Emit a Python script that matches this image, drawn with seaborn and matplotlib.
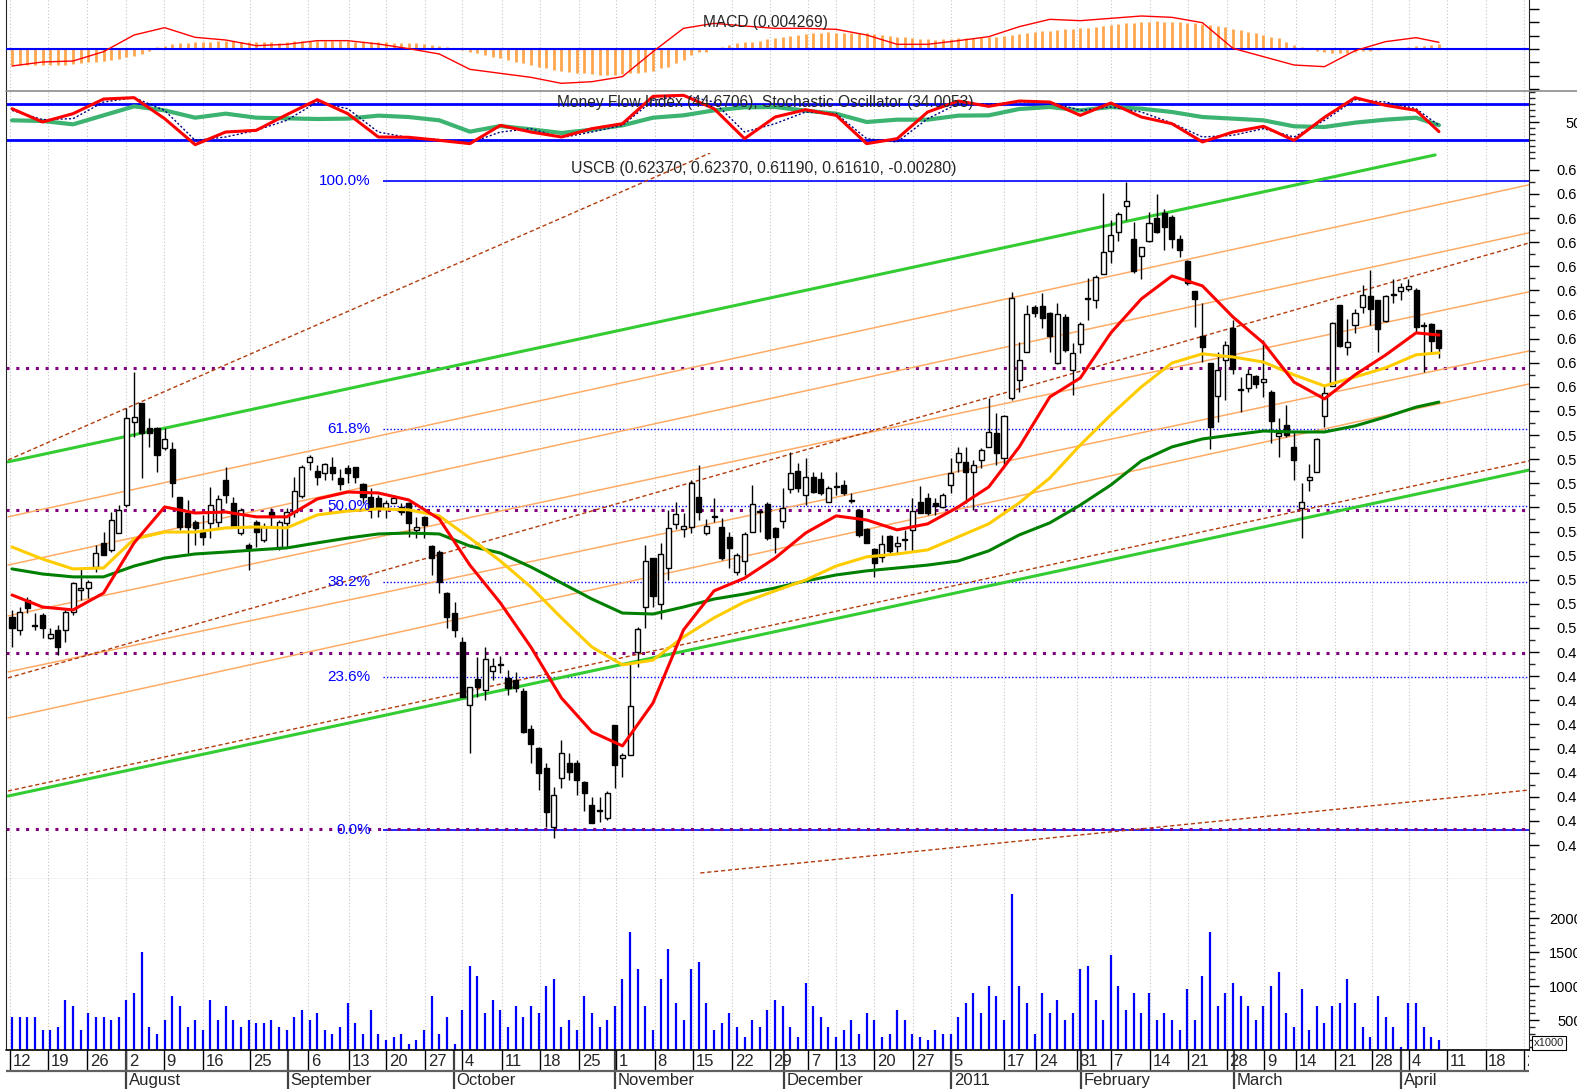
import matplotlib
matplotlib.use("Agg")
import matplotlib.pyplot as plt
from matplotlib import font_manager
from matplotlib.ticker import MultipleLocator, FixedLocator, NullFormatter
from matplotlib.lines import Line2D
import seaborn as sns

sns.set_style("white")
plt.rcParams['font.family'] = ['Liberation Sans', 'DejaVu Sans']

# the date strip uses a narrow face when one is installed
installed = {f.name for f in font_manager.fontManager.ttflist}
if 'Liberation Sans Narrow' in installed:
    DATE_FAMILY, DATE_SIZE = ['Liberation Sans Narrow', 'DejaVu Sans'], 13.5
else:
    DATE_FAMILY, DATE_SIZE = ['Liberation Sans', 'DejaVu Sans'], 12

# ---------------- data ----------------
opens = [0.5046, 0.4992, 0.5116, 0.5012, 0.5054, 0.4958, 0.4992, 0.4992, 0.5066, 0.5158,
         0.5166, 0.5253, 0.5353, 0.5324, 0.5394, 0.5510, 0.5855, 0.5933, 0.5830, 0.5830,
         0.5747, 0.5743, 0.5543, 0.5477, 0.5440, 0.5398, 0.5436, 0.5440, 0.5614, 0.5518,
         0.5394, 0.5344, 0.5440, 0.5365, 0.5481, 0.5336, 0.5436, 0.5481, 0.5548, 0.5689,
         0.5651, 0.5643, 0.5668, 0.5622, 0.5664, 0.5668, 0.5597, 0.5543, 0.5539, 0.5498,
         0.5518, 0.5502, 0.5518, 0.5407, 0.5460, 0.5340, 0.5315, 0.5145, 0.5062, 0.4942,
         0.4681, 0.4789, 0.4743, 0.4822, 0.4851, 0.4793, 0.4784, 0.4739, 0.4581, 0.4502,
         0.4419, 0.4175, 0.4378, 0.4440, 0.4440, 0.4361, 0.4266, 0.4245, 0.4212, 0.4598,
         0.4461, 0.4473, 0.4901, 0.5087, 0.5290, 0.5100, 0.5249, 0.5431, 0.5411, 0.5419,
         0.5543, 0.5394, 0.5465, 0.5419, 0.5378, 0.5232, 0.5278, 0.5398, 0.5481, 0.5514,
         0.5415, 0.5444, 0.5577, 0.5651, 0.5552, 0.5626, 0.5618, 0.5523, 0.5585, 0.5593,
         0.5531, 0.5490, 0.5411, 0.5328, 0.5295, 0.5382, 0.5340, 0.5369, 0.5407, 0.5523,
         0.5539, 0.5518, 0.5502, 0.5593, 0.5689, 0.5689, 0.5647, 0.5697, 0.5751, 0.5809,
         0.5705, 0.5954, 0.6029, 0.6145, 0.6332, 0.6336, 0.6307, 0.6099, 0.6290, 0.6070,
         0.6178, 0.6369, 0.6361, 0.6468, 0.6564, 0.6643, 0.6751, 0.6614, 0.6543, 0.6605,
         0.6701, 0.6722, 0.6705, 0.6614, 0.6522, 0.6398, 0.6211, 0.6099, 0.5962, 0.6112,
         0.6244, 0.5991, 0.5996, 0.6045, 0.6021, 0.5979, 0.5796, 0.5842, 0.5751, 0.5498,
         0.5614, 0.5647, 0.5879, 0.6004, 0.6340, 0.6166, 0.6257, 0.6332, 0.6377, 0.6361,
         0.6274, 0.6386, 0.6398, 0.6406, 0.6402, 0.6257, 0.6261, 0.6237]
highs = [0.5075, 0.5087, 0.5129, 0.5062, 0.5062, 0.5000, 0.5012, 0.5075, 0.5191, 0.5249,
         0.5199, 0.5344, 0.5398, 0.5481, 0.5510, 0.5913, 0.6062, 0.5933, 0.5871, 0.5834,
         0.5830, 0.5772, 0.5543, 0.5531, 0.5448, 0.5469, 0.5585, 0.5552, 0.5668, 0.5543,
         0.5498, 0.5353, 0.5448, 0.5436, 0.5498, 0.5448, 0.5498, 0.5626, 0.5676, 0.5718,
         0.5676, 0.5684, 0.5709, 0.5660, 0.5676, 0.5668, 0.5602, 0.5581, 0.5552, 0.5531,
         0.5552, 0.5518, 0.5523, 0.5460, 0.5465, 0.5344, 0.5324, 0.5149, 0.5108, 0.4963,
         0.4756, 0.4880, 0.4921, 0.4876, 0.4884, 0.4826, 0.4818, 0.4751, 0.4598, 0.4507,
         0.4440, 0.4341, 0.4535, 0.4482, 0.4453, 0.4366, 0.4299, 0.4299, 0.4324, 0.4598,
         0.4482, 0.4855, 0.5004, 0.5344, 0.5290, 0.5353, 0.5490, 0.5523, 0.5477, 0.5614,
         0.5676, 0.5452, 0.5539, 0.5457, 0.5398, 0.5311, 0.5398, 0.5593, 0.5490, 0.5523,
         0.5419, 0.5581, 0.5730, 0.5684, 0.5705, 0.5647, 0.5647, 0.5589, 0.5647, 0.5614,
         0.5560, 0.5494, 0.5415, 0.5332, 0.5386, 0.5386, 0.5382, 0.5407, 0.5539, 0.5589,
         0.5560, 0.5539, 0.5560, 0.5705, 0.5751, 0.5751, 0.5697, 0.5747, 0.5954, 0.5892,
         0.5884, 0.6394, 0.6186, 0.6340, 0.6340, 0.6390, 0.6311, 0.6348, 0.6303, 0.6182,
         0.6269, 0.6452, 0.6464, 0.6804, 0.6692, 0.6726, 0.6850, 0.6684, 0.6581, 0.6726,
         0.6800, 0.6738, 0.6713, 0.6630, 0.6527, 0.6398, 0.6348, 0.6099, 0.6145, 0.6191,
         0.6278, 0.6041, 0.6074, 0.6049, 0.6195, 0.5987, 0.5871, 0.5925, 0.5813, 0.5602,
         0.5680, 0.5788, 0.6008, 0.6270, 0.6340, 0.6282, 0.6323, 0.6423, 0.6485, 0.6361,
         0.6381, 0.6448, 0.6431, 0.6448, 0.6410, 0.6269, 0.6265, 0.6237]
lows = [0.4921, 0.4971, 0.5062, 0.4992, 0.4958, 0.4955, 0.4888, 0.4942, 0.5054, 0.5116,
        0.5125, 0.5232, 0.5303, 0.5315, 0.5394, 0.5502, 0.5792, 0.5622, 0.5751, 0.5647,
        0.5738, 0.5543, 0.5407, 0.5311, 0.5344, 0.5344, 0.5373, 0.5419, 0.5518, 0.5415,
        0.5386, 0.5241, 0.5336, 0.5357, 0.5419, 0.5324, 0.5336, 0.5460, 0.5540, 0.5655,
        0.5593, 0.5614, 0.5614, 0.5572, 0.5602, 0.5602, 0.5518, 0.5457, 0.5460, 0.5457,
        0.5518, 0.5469, 0.5378, 0.5373, 0.5373, 0.5220, 0.5145, 0.5000, 0.4963, 0.4714,
        0.4482, 0.4714, 0.4701, 0.4784, 0.4813, 0.4722, 0.4735, 0.4564, 0.4440, 0.4328,
        0.4175, 0.4129, 0.4337, 0.4370, 0.4307, 0.4241, 0.4191, 0.4195, 0.4204, 0.4337,
        0.4382, 0.4473, 0.4838, 0.5000, 0.5087, 0.5037, 0.5199, 0.5411, 0.5378, 0.5394,
        0.5448, 0.5386, 0.5440, 0.5282, 0.5249, 0.5220, 0.5220, 0.5398, 0.5398, 0.5365,
        0.5311, 0.5415, 0.5560, 0.5564, 0.5510, 0.5560, 0.5552, 0.5523, 0.5552, 0.5552,
        0.5518, 0.5378, 0.5353, 0.5212, 0.5274, 0.5311, 0.5311, 0.5324, 0.5315, 0.5477,
        0.5469, 0.5469, 0.5498, 0.5560, 0.5647, 0.5518, 0.5490, 0.5664, 0.5751, 0.5676,
        0.5668, 0.5946, 0.5979, 0.6145, 0.6290, 0.6244, 0.6145, 0.6095, 0.6145, 0.5967,
        0.6141, 0.6278, 0.6327, 0.6468, 0.6514, 0.6605, 0.6692, 0.6473, 0.6448, 0.6601,
        0.6639, 0.6568, 0.6576, 0.6539, 0.6423, 0.6249, 0.6103, 0.5743, 0.5855, 0.5946,
        0.6054, 0.5896, 0.5979, 0.5996, 0.5958, 0.5767, 0.5709, 0.5792, 0.5614, 0.5373,
        0.5568, 0.5647, 0.5834, 0.6004, 0.6166, 0.6132, 0.6224, 0.6307, 0.6257, 0.6145,
        0.6269, 0.6348, 0.6361, 0.6398, 0.6224, 0.6062, 0.6145, 0.6119]
closes = [0.5000, 0.5066, 0.5083, 0.5008, 0.5000, 0.4975, 0.4921, 0.5066, 0.5187, 0.5166,
          0.5191, 0.5311, 0.5303, 0.5448, 0.5490, 0.5871, 0.5875, 0.5809, 0.5809, 0.5718,
          0.5784, 0.5602, 0.5419, 0.5419, 0.5415, 0.5378, 0.5510, 0.5535, 0.5552, 0.5419,
          0.5490, 0.5332, 0.5398, 0.5419, 0.5460, 0.5440, 0.5481, 0.5568, 0.5668, 0.5709,
          0.5626, 0.5680, 0.5643, 0.5597, 0.5643, 0.5626, 0.5543, 0.5502, 0.5498, 0.5518,
          0.5539, 0.5481, 0.5436, 0.5419, 0.5427, 0.5290, 0.5191, 0.5046, 0.4992, 0.4714,
          0.4756, 0.4756, 0.4871, 0.4842, 0.4847, 0.4751, 0.4751, 0.4569, 0.4519, 0.4399,
          0.4237, 0.4307, 0.4482, 0.4403, 0.4370, 0.4316, 0.4191, 0.4241, 0.4316, 0.4432,
          0.4473, 0.4676, 0.4996, 0.5278, 0.5133, 0.5307, 0.5415, 0.5473, 0.5423, 0.5602,
          0.5481, 0.5423, 0.5460, 0.5290, 0.5332, 0.5303, 0.5390, 0.5514, 0.5486, 0.5373,
          0.5378, 0.5498, 0.5643, 0.5581, 0.5626, 0.5564, 0.5560, 0.5581, 0.5589, 0.5560,
          0.5527, 0.5386, 0.5353, 0.5270, 0.5349, 0.5320, 0.5353, 0.5365, 0.5486, 0.5477,
          0.5477, 0.5506, 0.5552, 0.5643, 0.5726, 0.5647, 0.5676, 0.5738, 0.5813, 0.5726,
          0.5879, 0.6369, 0.6112, 0.6303, 0.6307, 0.6286, 0.6211, 0.6303, 0.6153, 0.6141,
          0.6261, 0.6365, 0.6456, 0.6560, 0.6630, 0.6717, 0.6771, 0.6481, 0.6581, 0.6680,
          0.6643, 0.6664, 0.6614, 0.6568, 0.6431, 0.6365, 0.6166, 0.5834, 0.6070, 0.6174,
          0.6074, 0.5987, 0.6054, 0.6012, 0.6033, 0.5859, 0.5809, 0.5801, 0.5697, 0.5523,
          0.5626, 0.5784, 0.5975, 0.6265, 0.6170, 0.6186, 0.6307, 0.6381, 0.6323, 0.6240,
          0.6377, 0.6381, 0.6414, 0.6419, 0.6249, 0.6253, 0.6191, 0.6161]

# volume in thousands
volume = [550, 550, 550, 550, 350, 350, 400, 800, 700, 350,
          600, 550, 550, 500, 550, 800, 900, 1500, 400, 300,
          500, 850, 700, 400, 500, 350, 800, 500, 700, 500,
          400, 500, 450, 450, 500, 400, 350, 550, 650, 500,
          600, 350, 300, 400, 750, 450, 300, 650, 300, 200,
          250, 300, 150, 200, 350, 850, 300, 550, 150, 650,
          1300, 1150, 600, 800, 650, 400, 700, 550, 700, 600,
          1000, 1100, 400, 500, 350, 850, 600, 400, 500, 700,
          1100, 1800, 1250, 700, 350, 1100, 1550, 750, 500, 1250,
          1350, 750, 350, 450, 600, 400, 250, 500, 400, 650,
          800, 700, 400, 250, 1050, 700, 550, 400, 250, 350,
          500, 300, 600, 500, 250, 300, 650, 500, 300, 250,
          200, 350, 300, 300, 550, 750, 900, 600, 1000, 850,
          500, 2350, 1000, 750, 300, 900, 600, 800, 500, 600,
          1250, 1300, 800, 500, 1450, 1000, 650, 900, 600, 900,
          500, 600, 500, 350, 950, 500, 1150, 1800, 700, 900,
          1050, 850, 700, 500, 700, 1000, 1200, 600, 400, 950,
          350, 700, 450, 700, 750, 1100, 750, 400, 250, 850,
          550, 400, 100, 750, 750, 400, 250, 200]

macd_hist = [-0.0095, -0.0095, -0.0095, -0.0095, -0.0095, -0.0095, -0.0095, -0.0095, -0.0090, -0.0086,
             -0.0080, -0.0076, -0.0070, -0.0064, -0.0058, -0.0050, -0.0040, -0.0028, -0.0012, 0.0012,
             0.0020, 0.0028, 0.0034, 0.0038, 0.0040, 0.0044, 0.0044, 0.0046, 0.0050, 0.0048,
             0.0044, 0.0044, 0.0044, 0.0044, 0.0040, 0.0038, 0.0040, 0.0046, 0.0046, 0.0046,
             0.0046, 0.0046, 0.0046, 0.0046, 0.0046, 0.0044, 0.0044, 0.0044, 0.0044, 0.0040,
             0.0038, 0.0038, 0.0034, 0.0034, 0.0028, 0.0024, 0.0018, 0.0010, 0.0004, -0.0006,
             -0.0016, -0.0026, -0.0036, -0.0046, -0.0056, -0.0066, -0.0076, -0.0086, -0.0096, -0.0106,
             -0.0116, -0.0126, -0.0130, -0.0136, -0.0142, -0.0146, -0.0150, -0.0156, -0.0156, -0.0156,
             -0.0150, -0.0146, -0.0142, -0.0136, -0.0130, -0.0116, -0.0106, -0.0086, -0.0066, -0.0036,
             -0.0016, -0.0016, -0.0002, 0.0014, 0.0026, 0.0034, 0.0040, 0.0044, 0.0050, 0.0058,
             0.0068, 0.0074, 0.0078, 0.0084, 0.0088, 0.0094, 0.0098, 0.0100, 0.0098, 0.0094,
             0.0094, 0.0094, 0.0094, 0.0090, 0.0084, 0.0078, 0.0074, 0.0070, 0.0064, 0.0058,
             0.0058, 0.0054, 0.0058, 0.0060, 0.0064, 0.0064, 0.0068, 0.0070, 0.0074, 0.0074,
             0.0078, 0.0082, 0.0088, 0.0094, 0.0104, 0.0108, 0.0110, 0.0114, 0.0118, 0.0122,
             0.0124, 0.0128, 0.0134, 0.0138, 0.0144, 0.0148, 0.0154, 0.0158, 0.0162, 0.0164,
             0.0166, 0.0164, 0.0162, 0.0160, 0.0158, 0.0154, 0.0150, 0.0144, 0.0138, 0.0130,
             0.0122, 0.0114, 0.0104, 0.0094, 0.0084, 0.0074, 0.0064, 0.0044, 0.0024, 0.0014,
             -0.0002, -0.0010, -0.0020, -0.0022, -0.0026, -0.0022, -0.0016, -0.0012, -0.0010, -0.0006,
             -0.0002, 0.0004, 0.0008, 0.0014, 0.0018, 0.0020, 0.0024, 0.0028]

# indicator lines sampled every 4 sessions
line_idx = [0, 4, 8, 12, 16, 20, 24, 28, 32, 36, 40, 44, 48, 52, 56, 60, 64, 68, 72, 76,
            80, 84, 88, 92, 96, 100, 104, 108, 112, 116, 120, 124, 128, 132, 136, 140, 144,
            148, 152, 156, 160, 164, 168, 172, 176, 180, 184, 187]
macd_line = [-0.0102, -0.0078, -0.0072, -0.0016, 0.0084, 0.0128, 0.0070, 0.0054, 0.0020, 0.0028,
             0.0050, 0.0050, 0.0030, 0.0002, -0.0030, -0.0122, -0.0146, -0.0170, -0.0206, -0.0196,
             -0.0166, -0.0016, 0.0124, 0.0154, 0.0138, 0.0124, 0.0124, 0.0118, 0.0084, 0.0028,
             0.0028, 0.0050, 0.0074, 0.0134, 0.0178, 0.0170, 0.0184, 0.0198, 0.0190, 0.0158,
             0.0004, -0.0046, -0.0096, -0.0106, -0.0010, 0.0044, 0.0068, 0.0040]
mfi = [52.8, 51.7, 46.1, 61.1, 76.1, 69.4, 57.2, 63.9, 57.2, 56.1,
       55.0, 55.6, 60.6, 58.3, 52.8, 33.9, 43.3, 37.8, 31.7, 37.2,
       44.4, 57.2, 61.1, 69.4, 74.4, 75.0, 68.9, 63.9, 50.0, 53.9,
       53.9, 60.6, 61.1, 71.7, 75.0, 69.4, 75.0, 72.2, 66.7, 58.3,
       55.6, 52.8, 42.8, 41.7, 48.9, 53.9, 57.2, 44.7]
stoch_k = [72.2, 50.0, 63.9, 88.3, 90.6, 55.6, 12.2, 33.3, 36.1, 62.2,
           87.2, 63.9, 25.0, 24.5, 19.4, 13.9, 44.4, 33.3, 25.0, 38.9,
           47.2, 92.8, 94.5, 72.2, 22.2, 58.3, 70.5, 61.1, 13.9, 22.2,
           66.7, 85.0, 76.1, 85.0, 83.3, 61.1, 81.7, 58.3, 47.2, 16.7,
           33.3, 42.8, 19.4, 57.8, 90.6, 77.8, 69.4, 34.0]
stoch_d = [69.4, 53.9, 55.6, 83.3, 90.6, 69.4, 19.4, 25.0, 36.1, 52.8,
           83.3, 72.2, 33.3, 23.9, 20.6, 15.0, 33.3, 38.9, 23.9, 33.3,
           44.4, 86.1, 94.5, 83.3, 33.3, 47.2, 66.7, 63.9, 22.2, 16.7,
           55.6, 80.6, 79.5, 83.3, 83.3, 69.4, 75.0, 66.7, 48.3, 25.0,
           27.8, 38.9, 25.0, 52.8, 87.2, 83.3, 72.2, 44.4]

# moving averages on price, same sampling
ma_fast = [0.5137, 0.5087, 0.5075, 0.5145, 0.5353, 0.5502, 0.5477, 0.5481, 0.5461, 0.5461,
           0.5535, 0.5564, 0.5560, 0.5531, 0.5452, 0.5261, 0.5104, 0.4921, 0.4710, 0.4569,
           0.4511, 0.4689, 0.4992, 0.5154, 0.5207, 0.5290, 0.5394, 0.5465, 0.5448, 0.5407,
           0.5432, 0.5502, 0.5585, 0.5751, 0.5958, 0.6037, 0.6224, 0.6365, 0.6460, 0.6419,
           0.6290, 0.6182, 0.6020, 0.5950, 0.6050, 0.6132, 0.6224, 0.6215]
ma_mid = [0.5336, 0.5286, 0.5245, 0.5249, 0.5369, 0.5398, 0.5398, 0.5415, 0.5419, 0.5415,
          0.5469, 0.5485, 0.5494, 0.5490, 0.5465, 0.5373, 0.5278, 0.5170, 0.5042, 0.4921,
          0.4847, 0.4867, 0.4963, 0.5042, 0.5108, 0.5154, 0.5199, 0.5257, 0.5295, 0.5307,
          0.5324, 0.5378, 0.5432, 0.5519, 0.5622, 0.5759, 0.5884, 0.6000, 0.6099, 0.6137,
          0.6124, 0.6103, 0.6050, 0.6004, 0.6041, 0.6079, 0.6133, 0.6141]
ma_slow = [0.5245, 0.5224, 0.5212, 0.5212, 0.5257, 0.5290, 0.5307, 0.5315, 0.5324, 0.5332,
           0.5353, 0.5373, 0.5390, 0.5394, 0.5390, 0.5340, 0.5311, 0.5253, 0.5187, 0.5120,
           0.5062, 0.5058, 0.5087, 0.5120, 0.5141, 0.5166, 0.5195, 0.5220, 0.5237, 0.5249,
           0.5261, 0.5278, 0.5320, 0.5386, 0.5436, 0.5510, 0.5593, 0.5693, 0.5751, 0.5784,
           0.5801, 0.5817, 0.5813, 0.5813, 0.5838, 0.5875, 0.5916, 0.5937]

# drawn studies: (start index, start price, end index, end price)
green_channel = [(-0.52, 0.5689, 186.5, 0.6962), (-0.52, 0.4303, 198.8, 0.5655)]
brown_lines = [(-0.52, 0.5697, 91.5, 0.6970), (-0.52, 0.4793, 198.8, 0.6597),
               (-0.52, 0.4324, 198.8, 0.5693), (90.2, 0.3984, 198.8, 0.4328)]
orange_lines = [(-0.52, 0.5461, 198.8, 0.6838), (-0.52, 0.5261, 198.8, 0.6639),
                (-0.52, 0.5050, 198.8, 0.6394), (-0.52, 0.4818, 198.8, 0.6149),
                (-0.52, 0.4627, 198.8, 0.6012)]
fib_labels = ['100.0%', '61.8%', '50.0%', '38.2%', '23.6%', '0.0%']
fib_prices = [0.6854, 0.5826, 0.5508, 0.5190, 0.4797, 0.4162]
purple_levels = [0.6079, 0.5490, 0.4896, 0.4166]

day_ticks = [-0.26, 4.72, 9.83, 14.94, 19.92, 25.03, 31.19, 38.8, 44.17, 49.02, 54.13,
             58.98, 64.22, 69.2, 74.31, 79.16, 84.27, 89.25, 94.36, 99.34, 104.32, 108.0,
             112.97, 118.09, 123.07, 130.0, 134.2, 139.58, 144.0, 149.1, 154.1, 159.2,
             164.1, 168.3, 173.4, 178.2, 183.1, 188.1, 193.1, 198.1]
day_labels = ['12', '19', '26', '2', '9', '16', '25', '6', '13', '20', '27',
              '4', '11', '18', '25', '1', '8', '15', '22', '29', '7', '13',
              '20', '27', '5', '17', '24', '31', '7', '14', '21', '28',
              '9', '14', '21', '28', '4', '11', '18', '25']
month_starts = [14.94, 36.17, 57.93, 79.03, 101.2, 123.07, 140.1, 160.2, 182.0]
month_names = ['August', 'September', 'October', 'November', 'December', '2011',
               'February', 'March', 'April']

# ---------------- layout ----------------
W, H = 1577, 1089
X0, X1 = 6, 1529
XMIN, XMAX = -0.786, 198.8
fig = plt.figure(figsize=(W / 100, H / 100), dpi=100)


def panel(top, bottom):
    ax = fig.add_axes([X0 / W, 1 - bottom / H, (X1 - X0) / W, (bottom - top) / H])
    ax.set_xlim(XMIN, XMAX)
    ax.set_xticks([])
    for s in ax.spines.values():
        s.set_visible(False)
    return ax


ax_macd = panel(0, 91)
ax_mfi = panel(91, 153)
ax_px = panel(153, 879)
ax_vol = panel(879, 1050)
ax_dt = panel(1050, 1089)

grid_kw = dict(color='#c4c4c4', lw=0.8, ls=(0, (1, 2)), zorder=0)
for ax in (ax_macd, ax_mfi, ax_px, ax_vol):
    for t in day_ticks:
        ax.axvline(t, **grid_kw)
    ax.spines['left'].set_visible(True)
    ax.spines['right'].set_visible(True)
    ax.yaxis.tick_right()
    ax.tick_params(axis='y', which='major', length=7, width=1, direction='out',
                   labelsize=10.5, pad=13, colors='black')
    ax.tick_params(axis='y', which='minor', length=4, width=1, direction='out')

# ---- MACD ----
ax_macd.set_ylim(-0.0252, 0.0294)
ax_macd.vlines(range(len(macd_hist)), 0, macd_hist, color='#ffa64d', lw=2.0, zorder=2)
ax_macd.axhline(0, color='#0000ff', lw=1.5, zorder=3)
sns.lineplot(x=line_idx, y=macd_line, ax=ax_macd, color='#ff0000', lw=1.0,
             estimator=None, sort=False, legend=False, zorder=4)
ax_macd.yaxis.set_major_locator(MultipleLocator(0.008))
ax_macd.yaxis.set_major_formatter(NullFormatter())
ax_macd.set_ylabel('')

# ---- MFI / Stochastic ----
ax_mfi.set_ylim(-1.7, 101.7)
ax_mfi.axhline(80, color='#0000ff', lw=2, zorder=1)
ax_mfi.axhline(20, color='#0000ff', lw=2, zorder=1)
sns.lineplot(x=line_idx, y=mfi, ax=ax_mfi, color='#3cb371', lw=3,
             estimator=None, sort=False, legend=False, zorder=2)
sns.lineplot(x=line_idx, y=stoch_d, ax=ax_mfi, color='#000080', lw=1,
             estimator=None, sort=False, legend=False, zorder=3)
ax_mfi.lines[-1].set_linestyle((0, (1.5, 1.5)))
sns.lineplot(x=line_idx, y=stoch_k, ax=ax_mfi, color='#ff0000', lw=2.2,
             estimator=None, sort=False, legend=False, zorder=4)
ax_mfi.yaxis.set_major_locator(FixedLocator([50]))
ax_mfi.yaxis.set_minor_locator(MultipleLocator(10))
ax_mfi.tick_params(axis='y', which='major', pad=19.5)
ax_mfi.set_ylabel('')

# ---- price ----
ax_px.set_ylim(0.3959, 0.6970)
for lab, p in zip(fib_labels, fib_prices):
    solid = lab in ('100.0%', '0.0%')
    ax_px.hlines(p, 48.6, XMAX, color='#0000ff', lw=1.2 if solid else 1.0,
                 ls='-' if solid else (0, (1, 1.5)), zorder=1)
for p in purple_levels:
    ax_px.axhline(p, color='#800080', lw=2.2, ls=(0, (1, 2.2)), zorder=1)
for x0, y0, x1, y1 in orange_lines:
    ax_px.plot([x0, x1], [y0, y1], color='#ffab66', lw=1.1, zorder=1)
for x0, y0, x1, y1 in brown_lines:
    ax_px.plot([x0, x1], [y0, y1], color='#b33c0c', lw=1.0, ls=(0, (3, 2)), zorder=1)
for x0, y0, x1, y1 in green_channel:
    ax_px.plot([x0, x1], [y0, y1], color='#33cc33', lw=2.2, zorder=1)

idx = list(range(len(closes)))
ax_px.vlines(idx, lows, highs, color='black', lw=1, zorder=3)
body_bottom = [min(o, c) for o, c in zip(opens, closes)]
body_height = [abs(c - o) for o, c in zip(opens, closes)]
body_color = ['white' if c >= o else 'black' for o, c in zip(opens, closes)]
ax_px.bar(idx, body_height, bottom=body_bottom, width=0.66, color=body_color,
          edgecolor='black', linewidth=1, zorder=4)

sns.lineplot(x=line_idx, y=ma_slow, ax=ax_px, color='#008000', lw=2.2,
             estimator=None, sort=False, legend=False, zorder=5)
sns.lineplot(x=line_idx, y=ma_mid, ax=ax_px, color='#ffcc00', lw=2.2,
             estimator=None, sort=False, legend=False, zorder=5)
sns.lineplot(x=line_idx, y=ma_fast, ax=ax_px, color='#ff0000', lw=2.2,
             estimator=None, sort=False, legend=False, zorder=6)
ax_px.set_ylabel('')
ax_px.yaxis.set_major_locator(FixedLocator([round(0.41 + 0.01 * k, 2) for k in range(29)]))
ax_px.yaxis.set_major_formatter(plt.FuncFormatter(lambda v, _: f'{v:.2f}'))
ax_px.yaxis.set_minor_locator(MultipleLocator(0.005))
ax_px.spines['bottom'].set_visible(True)

for lab, p in zip(fib_labels, fib_prices):
    ax_px.text(47.0, p, lab, color='#0000ff', fontsize=11, ha='right', va='center', zorder=7)
ax_px.text(98.5, 0.6905, 'USCB (0.62370, 0.62370, 0.61190, 0.61610, -0.00280)',
           ha='center', va='center', fontsize=11.4, zorder=7)

# ---- volume ----
ax_vol.set_ylim(60, 2574)
ax_vol.vlines(idx, 0, volume, color='#0000ff', lw=1.6, zorder=2)
ax_vol.yaxis.set_major_locator(FixedLocator([500, 1000, 1500, 2000]))
ax_vol.yaxis.set_minor_locator(MultipleLocator(100))
ax_vol.tick_params(axis='y', which='major', pad=31)
for t in ax_vol.get_yticklabels():
    t.set_horizontalalignment('right')
ax_vol.spines['bottom'].set_visible(True)
fig.text(1549 / W, 1 - 1043 / H, 'x1000', fontsize=8, ha='center', va='center',
         bbox=dict(boxstyle='square,pad=0.15', fc='white', ec='black', lw=0.8))

# ---- date axis ----
ax_dt.set_ylim(1089, 1050)
ax_dt.set_yticks([])
ax_dt.vlines(day_ticks, 1050, 1071, color='black', lw=1)
ax_dt.vlines(month_starts, 1050, 1089, color='#404040', lw=1.6)
ax_dt.hlines(1071, XMIN, XMAX, color='#606060', lw=1.6)
for t, lab in zip(day_ticks, day_labels):
    ax_dt.text(t + 0.35, 1061, lab, ha='left', va='center', fontsize=DATE_SIZE,
               family=DATE_FAMILY, clip_on=True)
for t, lab in zip(month_starts, month_names):
    ax_dt.text(t + 0.35, 1080.5, lab, ha='left', va='center', fontsize=DATE_SIZE,
               family=DATE_FAMILY, clip_on=True)

# panel separators
fig.add_artist(Line2D([X0 / W, 1], [1 - 91 / H] * 2, color='#8c8c8c', lw=1.2))
fig.add_artist(Line2D([X0 / W, X1 / W], [1 - 1050 / H] * 2, color='black', lw=1.2))

fig.text(765 / W, 1 - 22 / H, 'MACD (0.004269)', ha='center', va='center', fontsize=11.2)
fig.text(765 / W, 1 - 103 / H, 'Money Flow Index (44.6706), Stochastic Oscillator (34.0053)',
         ha='center', va='center', fontsize=11.2)

fig.savefig('out.png', dpi=100)
